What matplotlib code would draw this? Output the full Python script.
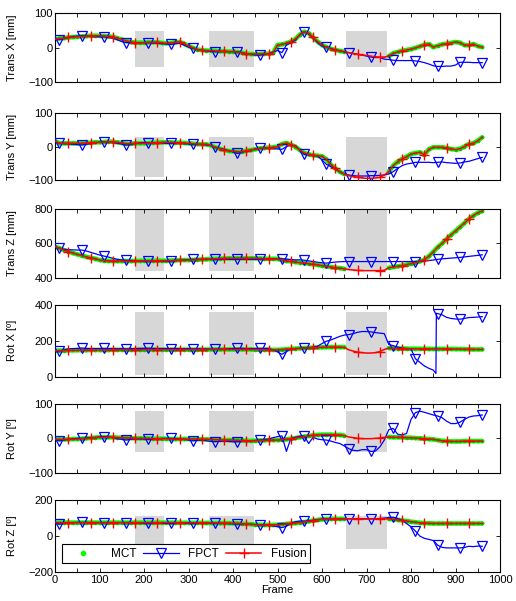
import numpy as np
import matplotlib
matplotlib.use('Agg')
import matplotlib.pyplot as plt
from matplotlib.lines import Line2D
from matplotlib.patches import Rectangle
from matplotlib.ticker import MultipleLocator

plt.rcParams['font.family'] = ['Liberation Sans', 'DejaVu Sans']

nan = np.nan
frames = np.arange(0, 970, 10)  # frame index of every sample

# ---------------- Trans X ----------------
tx_mct = [25, 27, 28, 30, 31, 32, 33, 34, 35, 35,
          35, 34, 33, 32, 28, 24, 20, 17, 15, 15,
          15, 16, 16, 16, 14, 13, 14, 16, 17, 12,
          5, 0, -5, -7, -8, -8, -9, -10, -10, -11,
          -11, -12, -14, -17, -18, -18, -18, -17, -17, -15,
          8, 10, 13, 18, 25, 38, 47, 42, 30, 18,
          8, 2, -3, -6, -9, -11, nan, nan, nan, nan,
          nan, nan, nan, nan, nan, -24, -16, -12, -9, -6,
          -4, 0, 4, 9, 11, 2, 6, 10, 12, 14,
          17, 15, 8, 7, 11, 5, 2]
tx_fus = [25, 27, 28, 30, 31, 32, 33, 34, 35, 35,
          35, 34, 33, 32, 28, 24, 20, 17, 15, 15,
          15, 16, 16, 16, 14, 13, 14, 16, 17, 12,
          5, 0, -5, -7, -8, -8, -9, -10, -10, -11,
          -11, -12, -14, -17, -18, -18, -18, -17, -17, -15,
          8, 10, 13, 18, 25, 38, 47, 42, 30, 18,
          8, 2, -3, -6, -9, -11, -14, -16, -19, -21,
          -22, -24, -26, -27, -27, -24, -16, -12, -9, -6,
          -4, 0, 4, 9, 11, 2, 6, 10, 12, 14,
          17, 15, 8, 7, 11, 5, 2]
tx_fpct = [25, 24, 27, 30, 33, 34, 35, 34, 33, 32,
           32, 32, 30, 28, 23, 18, 15, 15, 15, 15,
           15, 15, 14, 13, 12, 11, 10, 12, 13, 8,
           2, -1, -5, -8, -9, -10, -11, -11, -11, -11,
           -11, -11, -14, -17, -19, -21, -21, -19, -17, -12,
           -8, -14, 8, 15, 22, 38, 47, 40, 28, 15,
           5, 3, -2, -6, -9, -12, -14, -17, -19, -21,
           -24, -27, -28, -28, -33, -34, -36, -37, -37, -37,
           -37, -38, -40, -43, -47, -52, -54, -54, -53, -53,
           -50, -42, -42, -42, -43, -43, -43]

# ---------------- Trans Y ----------------
ty_mct = [17, 10, 10, 10, 10, 10, 10, 11, 12, 13,
          13, 14, 15, 15, 13, 11, 9, 9, 10, 10,
          10, 11, 12, 12, 13, 13, 13, 12, 12, 11,
          10, 9, 8, 7, 7, 4, -2, -6, -10, -13,
          -14, -15, -15, -12, -10, -8, -5, -4, -3, -2,
          0, 8, 11, 6, 0, -10, -19, -23, -26, -27,
          -29, -38, -54, -65, -75, -82, nan, nan, nan, nan,
          nan, nan, nan, nan, nan, -75, -57, -45, -37, -30,
          -22, -19, -17, -25, -8, -2, -2, -2, -4, -7,
          -9, -6, 0, 8, 10, 18, 28]
ty_fus = [17, 10, 10, 10, 10, 10, 10, 11, 12, 13,
          13, 14, 15, 15, 13, 11, 9, 9, 10, 10,
          10, 11, 12, 12, 13, 13, 13, 12, 12, 11,
          10, 9, 8, 7, 7, 4, -2, -6, -10, -13,
          -14, -15, -15, -12, -10, -8, -5, -4, -3, -2,
          0, 8, 11, 6, 0, -10, -19, -23, -26, -27,
          -29, -38, -54, -65, -75, -82, -87, -90, -92, -94,
          -95, -95, -94, -92, -85, -75, -57, -45, -37, -30,
          -22, -19, -17, -25, -8, -2, -2, -2, -4, -7,
          -9, -6, 0, 8, 10, 18, 28]
ty_fpct = [15, 10, 9, 8, 7, 6, 5, 7, 9, 11,
           13, 15, 14, 12, 10, 8, 5, 7, 9, 11,
           12, 12, 12, 11, 11, 10, 10, 10, 10, 9,
           8, 7, 7, 6, 5, 3, -2, -5, -8, -12,
           -16, -20, -17, -13, -10, -7, -5, -5, -5, -6,
           -7, -8, 0, 5, 3, -10, -23, -25, -27, -28,
           -40, -53, -60, -68, -75, -82, -85, -87, -88, -88,
           -88, -87, -87, -86, -85, -82, -75, -65, -57, -52,
           -50, -47, -47, -47, -47, -48, -47, -46, -48, -49,
           -50, -49, -46, -44, -40, -36, -32]

# ---------------- Trans Z ----------------
tz_mct = [581, 572, 561, 552, 544, 536, 529, 522, 516, 511,
          503, 500, 498, 497, 497, 497, 497, 497, 498, 498,
          499, 499, 499, 499, 499, 499, 500, 501, 502, 503,
          503, 504, 505, 506, 507, 509, 510, 511, 512, 513,
          513, 513, 513, 513, 513, 513, 512, 511, 510, 510,
          510, 503, 498, 495, 491, 488, 485, 482, 478, 475,
          470, 466, 462, 459, 456, 452, nan, nan, nan, nan,
          nan, nan, nan, nan, nan, 458, 462, 466, 470, 476,
          482, 488, 495, 505, 525, 550, 578, 600, 625, 650,
          672, 695, 718, 742, 762, 778, 788]
tz_fus = [581, 572, 561, 552, 544, 536, 529, 522, 516, 511,
          503, 500, 498, 497, 497, 497, 497, 497, 498, 498,
          499, 499, 499, 499, 499, 499, 500, 501, 502, 503,
          503, 504, 505, 506, 507, 509, 510, 511, 512, 513,
          513, 513, 513, 513, 513, 513, 512, 511, 510, 510,
          510, 503, 498, 495, 491, 488, 485, 482, 478, 475,
          470, 466, 462, 459, 456, 452, 448, 445, 442, 441,
          441, 441, 441, 441, 443, 458, 462, 466, 470, 476,
          482, 488, 495, 505, 525, 550, 578, 600, 625, 650,
          672, 695, 718, 742, 762, 778, 788]
tz_fpct = [581, 572, 566, 563, 562, 561, 561, 556, 548, 540,
           532, 526, 520, 513, 507, 503, 501, 500, 499, 498,
           497, 497, 497, 497, 497, 497, 497, 499, 501, 503,
           505, 507, 507, 507, 507, 507, 507, 507, 507, 507,
           507, 507, 507, 507, 507, 507, 507, 508, 509, 510,
           510, 510, 508, 506, 504, 504, 502, 498, 494, 490,
           487, 485, 488, 491, 493, 494, 494, 494, 494, 494,
           494, 494, 494, 494, 494, 494, 494, 494, 494, 494,
           494, 494, 495, 497, 500, 503, 507, 510, 512, 514,
           516, 518, 521, 524, 527, 530, 533]

# ---------------- Rot X ----------------
rx_mct = [145, 146, 146, 147, 147, 148, 148, 148, 149, 149,
          149, 149, 149, 150, 150, 150, 150, 150, 150, 150,
          151, 151, 151, 151, 151, 151, 151, 151, 151, 151,
          151, 151, 151, 151, 151, 152, 152, 152, 152, 152,
          152, 152, 152, 152, 152, 151, 150, 150, 150, 150,
          150, 151, 153, 155, 157, 158, 160, 161, 162, 163,
          164, 165, 165, 165, 165, 165, nan, nan, nan, nan,
          nan, nan, nan, nan, nan, 160, 158, 157, 157, 157,
          156, 156, 156, 156, 155, 155, 155, 155, 155, 155,
          154, 154, 153, 153, 152, 152, 152]
rx_fus = [145, 146, 146, 147, 147, 148, 148, 148, 149, 149,
          149, 149, 149, 150, 150, 150, 150, 150, 150, 150,
          151, 151, 151, 151, 151, 151, 151, 151, 151, 151,
          151, 151, 151, 151, 151, 152, 152, 152, 152, 152,
          152, 152, 152, 152, 152, 151, 150, 150, 150, 150,
          150, 151, 153, 155, 157, 158, 160, 161, 162, 163,
          164, 165, 165, 165, 165, 163, 150, 143, 137, 134,
          132, 132, 134, 140, 152, 160, 158, 157, 157, 157,
          156, 156, 156, 156, 155, 155, 155, 155, 155, 155,
          154, 154, 153, 153, 152, 152, 152]
rx_fpct = [145, 143, 150, 155, 157, 158, 160, 158, 157, 157,
           157, 158, 157, 157, 156, 156, 155, 156, 157, 158,
           158, 159, 158, 157, 157, 157, 157, 157, 156, 156,
           156, 155, 155, 155, 155, 154, 153, 153, 154, 156,
           157, 158, 158, 157, 157, 157, 158, 158, 158, 150,
           138, 125, 140, 155, 157, 158, 160, 162, 165, 170,
           185, 198, 205, 215, 225, 232, 235, 240, 248, 252,
           252, 250, 246, 243, 240, 180, 173, 165, 160, 157,
           155, 100, 80, 60, 47, 37, 352, 345, 331, 325,
           322, 321, 325, 330, 331, 333, 335]
# extra FPCT samples at the tracking jump
rx_fpct_jump_frames = [856, 857]
rx_fpct_jump_vals = [18, 354]

# ---------------- Rot Y ----------------
ry_mct = [-3, -3, -3, -3, -2, -2, -1, 0, 1, 2,
          3, 3, 3, 3, 2, 2, 1, 1, 0, 0,
          0, 0, -1, -1, -1, -1, -2, -2, -2, -2,
          -2, -2, -2, -3, -3, -3, -4, -4, -5, -5,
          -5, -6, -6, -7, -7, -7, -6, -6, -5, -5,
          -5, -4, -3, -1, 1, 3, 5, 7, 9, 10,
          11, 11, 11, 10, 10, 8, nan, nan, nan, nan,
          nan, nan, nan, nan, nan, 4, 3, 3, 3, 2,
          2, 1, 0, -1, -2, -3, -5, -7, -8, -9,
          -9, -9, -8, -8, -8, -8, -8]
ry_fus = [-3, -3, -3, -3, -2, -2, -1, 0, 1, 2,
          3, 3, 3, 3, 2, 2, 1, 1, 0, 0,
          0, 0, -1, -1, -1, -1, -2, -2, -2, -2,
          -2, -2, -2, -3, -3, -3, -4, -4, -5, -5,
          -5, -6, -6, -7, -7, -7, -6, -6, -5, -5,
          -5, -4, -3, -1, 1, 3, 5, 7, 9, 10,
          11, 11, 11, 10, 10, 8, 4, 2, 0, -1,
          -1, -1, 0, 1, 3, 4, 3, 3, 3, 2,
          2, 1, 0, -1, -2, -3, -5, -7, -8, -9,
          -9, -9, -8, -8, -8, -8, -8]
ry_fpct = [-3, -7, -5, -3, -1, 0, 0, 1, 2, 3,
           4, 5, 4, 2, -1, -3, -5, -3, -2, -2,
           -2, -3, -2, -1, 0, 0, 0, -1, -2, -3,
           -5, -7, -6, -5, -7, -9, -10, -9, -8, -9,
           -10, -10, -9, -8, -7, -6, -5, -4, -2, 2,
           5, 7, -38, 0, 3, 6, 7, -15, 3, -2,
           -4, -5, -8, -12, -15, -22, -30, -35, -36, -33,
           -33, -38, -37, -25, -5, 25, 29, 12, 10, 14,
           55, 75, 79, 76, 72, 68, 65, 60, 50, 43,
           43, 47, 55, 62, 65, 66, 68]

# ---------------- Rot Z ----------------
rz_mct = [75, 75, 75, 75, 75, 75, 75, 75, 75, 75,
          75, 75, 75, 75, 75, 75, 75, 75, 75, 75,
          75, 75, 75, 75, 75, 75, 75, 75, 74, 74,
          74, 74, 74, 73, 73, 73, 73, 72, 72, 72,
          71, 70, 69, 68, 66, 64, 63, 62, 62, 62,
          63, 65, 68, 70, 72, 75, 78, 82, 86, 90,
          93, 95, 96, 96, 96, 96, nan, nan, nan, nan,
          nan, nan, nan, nan, nan, 96, 93, 90, 87, 84,
          80, 77, 74, 72, 71, 70, 70, 70, 70, 70,
          70, 70, 70, 70, 70, 70, 70]
rz_fus = [75, 75, 75, 75, 75, 75, 75, 75, 75, 75,
          75, 75, 75, 75, 75, 75, 75, 75, 75, 75,
          75, 75, 75, 75, 75, 75, 75, 75, 74, 74,
          74, 74, 74, 73, 73, 73, 73, 72, 72, 72,
          71, 70, 69, 68, 66, 64, 63, 62, 62, 62,
          63, 65, 68, 70, 72, 75, 78, 82, 86, 90,
          93, 95, 96, 96, 96, 96, 96, 96, 95, 95,
          95, 95, 95, 96, 96, 96, 93, 90, 87, 84,
          80, 77, 74, 72, 71, 70, 70, 70, 70, 70,
          70, 70, 70, 70, 70, 70, 70]
rz_fpct = [75, 67, 70, 73, 75, 76, 76, 76, 75, 75,
           75, 75, 75, 75, 75, 75, 75, 75, 74, 73,
           72, 71, 71, 71, 71, 71, 71, 71, 71, 71,
           71, 71, 71, 71, 71, 71, 71, 70, 70, 69,
           68, 67, 67, 66, 65, 64, 63, 62, 60, 57,
           52, 47, 55, 70, 80, 83, 83, 85, 88, 92,
           94, 96, 96, 96, 96, 96, 96, 96, 96, 96,
           96, 96, 96, 98, 100, 103, 105, 98, 88, 70,
           52, 28, 0, -12, -18, -24, -50, -62, -65, -65,
           -65, -65, -63, -56, -58, -55, -56]

ylabels = ['Trans X [mm]', 'Trans Y [mm]', 'Trans Z [mm]',
           'Rot X [º]', 'Rot Y [º]', 'Rot Z [º]']
ylims = [(-100, 100), (-100, 100), (400, 800), (0, 400), (-100, 100), (-200, 200)]
yticks = [[-100, 0, 100], [-100, 0, 100], [400, 600, 800],
          [0, 200, 400], [-100, 0, 100], [-200, 0, 200]]
# occlusion intervals (frames) and their vertical extent per panel
occl_frames = [(180, 245), (345, 448), (655, 745)]
occl_y = [(-55, 50), (-90, 30), (440, 795), (10, 360), (-40, 80), (-70, 110)]

mct_all = [tx_mct, ty_mct, tz_mct, rx_mct, ry_mct, rz_mct]
fus_all = [tx_fus, ty_fus, tz_fus, rx_fus, ry_fus, rz_fus]
fpct_all = [tx_fpct, ty_fpct, tz_fpct, rx_fpct, ry_fpct, rz_fpct]

tri_frames = np.arange(10, 970, 50)
plus_frames = np.arange(30, 970, 50)

W, H = 516, 601
fig = plt.figure(figsize=(W / 100, H / 100), dpi=100)
panel_px = [(13.3, 82.3), (113.3, 180), (209, 277.7), (305, 376.7), (404, 472.7), (500, 572.3)]
left_px, right_px = 55, 500

GREEN = (0.0, 1.0, 0.0)
for i in range(6):
    top, bot = panel_px[i]
    ax = fig.add_axes([left_px / W, 1 - bot / H, (right_px - left_px) / W, (bot - top) / H])
    y0, y1 = occl_y[i]
    for (a, b) in occl_frames:
        ax.add_patch(Rectangle((a, y0), b - a, y1 - y0, facecolor='#d7d7d7',
                               edgecolor='none', zorder=0))
    mct = np.array(mct_all[i], dtype=float)
    fus = np.array(fus_all[i], dtype=float)
    fp = np.array(fpct_all[i], dtype=float)
    fr_fp = frames.copy()
    if i == 3:
        fr_fp = np.concatenate([frames, rx_fpct_jump_frames])
        fp = np.concatenate([fp, rx_fpct_jump_vals])
        order = np.argsort(fr_fp, kind='stable')
        fr_fp, fp = fr_fp[order], fp[order]
    ax.plot(frames, mct, '-', color=GREEN, lw=3.3, zorder=2, solid_capstyle='round')
    ax.plot(frames, mct, '.', color=(0.0, 0.8, 0.0), ms=3.2, zorder=2)
    tri_idx = list(np.where(np.isin(fr_fp, tri_frames))[0])
    ax.plot(fr_fp, fp, '-', color='blue', lw=0.9, marker='v', markevery=tri_idx,
            mfc='none', mec='blue', ms=6.5, mew=0.9, zorder=3)
    plus_idx = list(np.where(np.isin(frames, plus_frames))[0])
    ax.plot(frames, fus, '-', color='red', lw=1.1, marker='+', markevery=plus_idx,
            ms=7, mew=1.0, zorder=4)
    ax.set_xlim(0, 1000)
    ax.set_ylim(*ylims[i])
    ax.set_yticks(yticks[i])
    ax.xaxis.set_major_locator(MultipleLocator(100))
    ax.xaxis.set_minor_locator(MultipleLocator(50))
    ax.tick_params(which='both', direction='in', top=True, right=True,
                   length=3, width=0.6, labelsize=8, pad=2)
    ax.tick_params(axis='y', pad=1.5)
    for s in ax.spines.values():
        s.set_linewidth(0.8)
    ax.set_ylabel(ylabels[i], fontsize=8)
    ax.yaxis.set_label_coords(-0.085, 0.5)
    if i < 5:
        ax.set_xticklabels([])
    else:
        ax.set_xlabel('Frame', fontsize=8, labelpad=0)
        handles = [Line2D([], [], color=GREEN, marker='.', ls='none', ms=6),
                   Line2D([], [], color='blue', lw=0.9, marker='v', mfc='none', ms=6.5, mew=0.9),
                   Line2D([], [], color='red', lw=1.1, marker='+', ms=7, mew=1.0)]
        leg = ax.legend(handles, ['MCT', 'FPCT', 'Fusion'], ncol=3, loc='lower left',
                        bbox_to_anchor=(0.016, 0.125), borderaxespad=0, fontsize=8.5,
                        fancybox=False, edgecolor='black', framealpha=1,
                        handlelength=3.0, handletextpad=0.8, columnspacing=0.6,
                        borderpad=0.3)
        leg.get_frame().set_linewidth(0.8)

fig.savefig('out.png', dpi=100)
